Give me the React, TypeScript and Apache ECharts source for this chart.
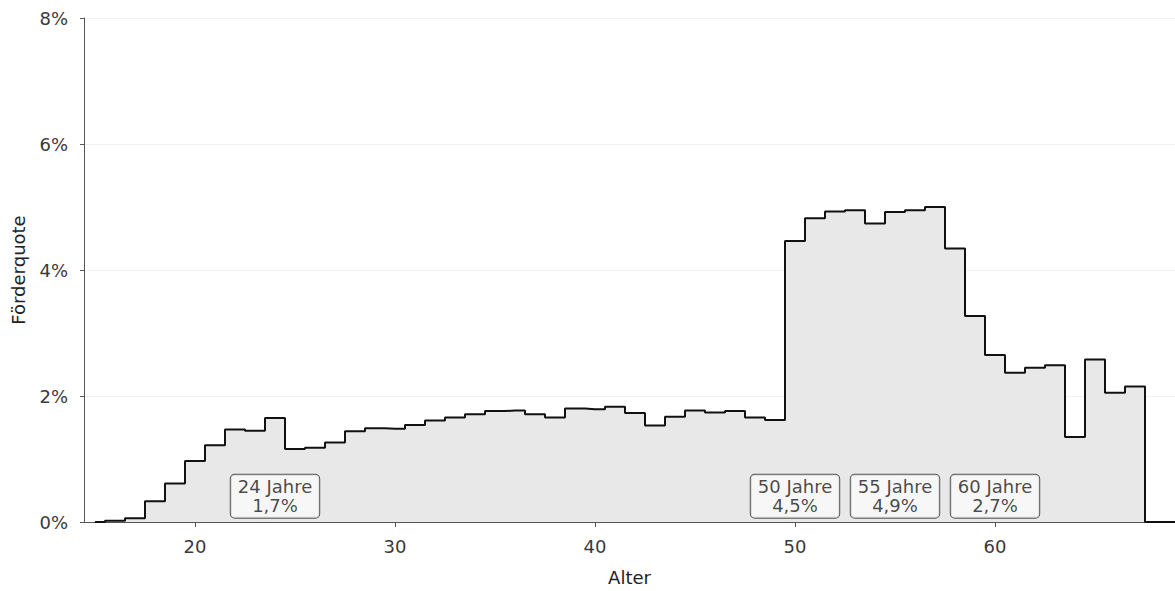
import React, { useEffect, useRef } from "react";
import * as echarts from "echarts";

const ages = [15, 16, 17, 18, 19, 20, 21, 22, 23, 24, 25, 26, 27, 28, 29, 30, 31, 32, 33, 34, 35, 36, 37, 38, 39, 40, 41, 42, 43, 44, 45, 46, 47, 48, 49, 50, 51, 52, 53, 54, 55, 56, 57, 58, 59, 60, 61, 62, 63, 64, 65, 66, 67, 68, 69];
const quotes = [0.0, 0.02, 0.06, 0.33, 0.61, 0.97, 1.22, 1.47, 1.45, 1.65, 1.16, 1.18, 1.26, 1.44, 1.49, 1.48, 1.54, 1.61, 1.66, 1.71, 1.76, 1.77, 1.71, 1.66, 1.8, 1.79, 1.83, 1.73, 1.53, 1.67, 1.77, 1.74, 1.76, 1.66, 1.62, 4.46, 4.82, 4.93, 4.95, 4.74, 4.92, 4.95, 5.0, 4.34, 3.27, 2.65, 2.37, 2.45, 2.49, 1.35, 2.58, 2.05, 2.15, 0.0, 0.0];
const labelAges = [24, 50, 55, 60];
const labelTexts = ["1,7%", "4,5%", "4,9%", "2,7%"];
const labelY = 0.41;
const xTicks = [20, 30, 40, 50, 60];
const yTicks = [0, 2, 4, 6, 8];

const FONT = "DejaVu Sans";

export default function App() {
  const ref = useRef<HTMLDivElement>(null);
  useEffect(() => {
    if (!ref.current) return;
    const chart = echarts.init(ref.current, undefined, { renderer: "svg" });
    chart.setOption({
      animation: false,
      textStyle: { fontFamily: FONT },
      grid: { left: 84, right: 0, top: 18, bottom: 67, containLabel: false },
      xAxis: {
        type: "value",
        min: 14.45,
        max: 69,
        name: "Alter",
        nameLocation: "middle",
        nameGap: 46,
        nameTextStyle: { fontSize: 18, color: "#222", fontFamily: FONT },
        axisLine: { show: true, onZero: false, lineStyle: { color: "#555", width: 1 } },
        axisTick: { show: true, length: 5, lineStyle: { color: "#555" }, customValues: xTicks },
        axisLabel: { fontSize: 18, color: "#3a3a3a", margin: 15, customValues: xTicks, fontFamily: FONT },
        splitLine: { show: false },
      },
      yAxis: {
        type: "value",
        min: 0,
        max: 8,
        interval: 2,
        name: "Förderquote",
        nameLocation: "middle",
        nameRotate: 90,
        nameGap: 57,
        nameTextStyle: { fontSize: 18, color: "#222", fontFamily: FONT },
        axisLine: { show: true, lineStyle: { color: "#555", width: 1 } },
        axisTick: { show: true, length: 4, lineStyle: { color: "#555" } },
        axisLabel: {
          fontSize: 18,
          color: "#3a3a3a",
          margin: 16,
          fontFamily: FONT,
          formatter: (v: number) => (yTicks.includes(v) ? `${v}%` : ""),
        },
        splitLine: { show: true, lineStyle: { color: "#f0f0f0", width: 1 } },
      },
      series: [
        {
          type: "line",
          step: "middle",
          data: ages.map((a, i) => [a, quotes[i]]),
          showSymbol: false,
          symbol: "none",
          lineStyle: { color: "#111", width: 2 },
          areaStyle: { color: "#e8e8e8", opacity: 1 },
          z: 2,
        },
        {
          type: "scatter",
          symbolSize: 1,
          itemStyle: { color: "transparent" },
          data: labelAges.map((a) => [a, labelY]),
          label: {
            show: true,
            position: "inside",
            formatter: (p: any) => `${labelAges[p.dataIndex]} Jahre\n${labelTexts[p.dataIndex]}`,
            fontSize: 18,
            lineHeight: 19,
            color: "#1a1a1a",
            fontFamily: FONT,
            align: "center",
            backgroundColor: "#fafafa",
            borderColor: "#333",
            borderWidth: 1,
            borderRadius: 4,
            padding: [3, 7, 2, 7],
          },
          z: 5,
        },
      ],
    });
    return () => chart.dispose();
  }, []);
  return <div ref={ref} style={{ width: 1175, height: 591, position: "absolute", left: 0, top: 0 }} />;
}
